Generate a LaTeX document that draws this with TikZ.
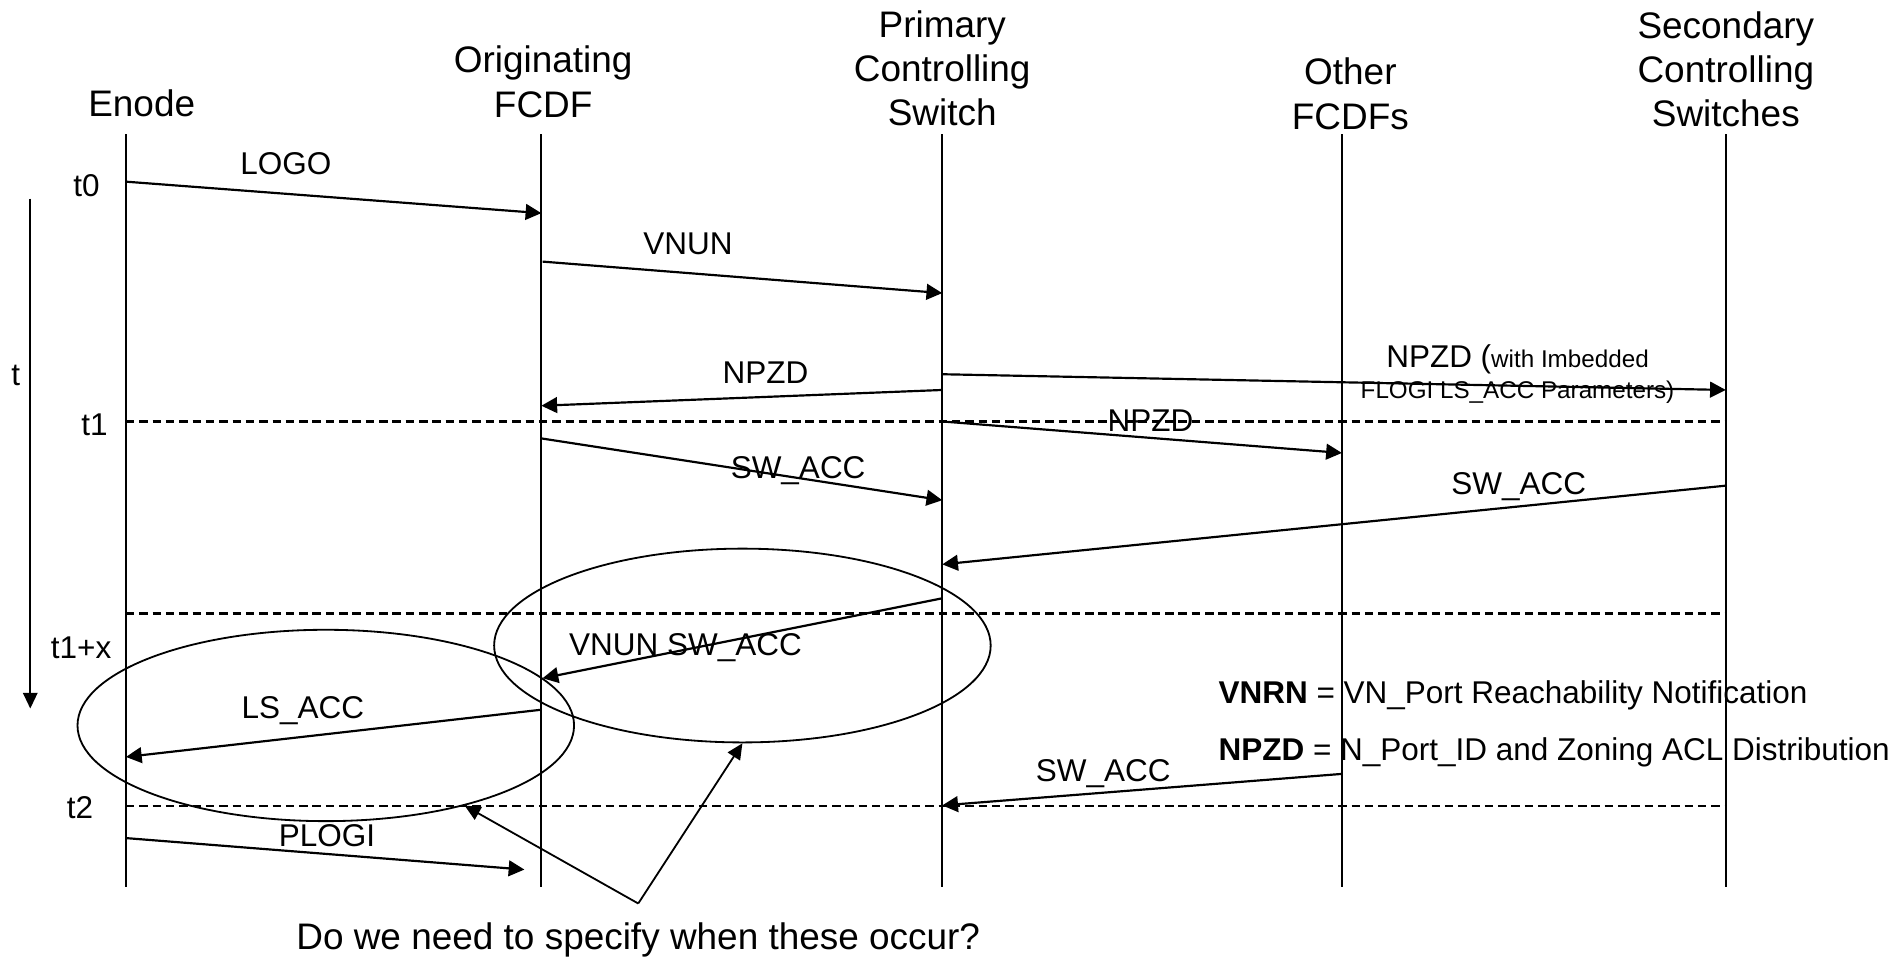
\documentclass[tikz,border=0pt]{standalone}
\usepackage{fontspec}
\setmainfont{Liberation Sans}
\usetikzlibrary{arrows.meta,positioning,shapes.geometric}

\begin{document}
\begin{tikzpicture}[x=1pt,y=-1pt,>={Triangle[length=13pt,width=13pt]},
    lifeline/.style={line width=1.5pt},
    msg/.style={->,line width=1.8pt},
    sync/.style={dash pattern=on 7pt off 4pt,line width=2pt},
    head/.style={align=center,inner sep=0pt,font=\fontsize{30.5}{36.5}\selectfont},
    lbl/.style={align=center,inner sep=0pt,font=\fontsize{26}{26}\selectfont},
    group/.style={draw,ellipse,line width=1.5pt,inner sep=0pt,minimum width=410pt},
    callout/.style={->,line width=1.5pt,>={Triangle[length=13pt,width=12pt]}}]
  \useasboundingbox (0,0) rectangle (1568,793);

  \node[head] (enode) at (117,85) {Enode};
  \node[head] (orig) at (448.5,67.5) {Originating\\FCDF};
  \node[head] (prim) at (778,56.5) {Primary\\Controlling\\Switch};
  \node[head] (other) at (1115,77.5) {Other\\FCDFs};
  \node[head] (sec) at (1425,57) {Secondary\\Controlling\\Switches};

  \coordinate (enT) at (104,111);  \coordinate (enB) at (104,732);
  \coordinate (orT) at (447,111);  \coordinate (orB) at (447,732);
  \coordinate (prT) at (778,111);  \coordinate (prB) at (778,732);
  \coordinate (otT) at (1108,111); \coordinate (otB) at (1108,732);
  \coordinate (seT) at (1425,111); \coordinate (seB) at (1425,732);
  \draw[lifeline] (enT) -- (enB);
  \draw[lifeline] (orT) -- (orB);
  \draw[lifeline] (prT) -- (prB);
  \draw[lifeline] (otT) -- (otB);
  \draw[lifeline] (seT) -- (seB);

  \coordinate (s1a) at (104,348);   \coordinate (s1b) at (1425,348);
  \coordinate (s2a) at (104,506.5); \coordinate (s2b) at (1425,506.5);
  \coordinate (s3a) at (104,665.5); \coordinate (s3b) at (1425,665.5);
  \draw[sync] (s1a) -- (s1b);
  \draw[sync] (s2a) -- (s2b);
  \draw[sync] (s3a) -- (s3b);

  % time axis
  \coordinate (tTop) at (25,164); \coordinate (tBot) at (25,585);
  \draw[callout] (tTop) -- (tBot);
  \node[lbl] (tlab) at (13,310) {t};
  \node[lbl] (t0) at (71.5,153) {t0};
  \node[lbl] (t1) at (78,351) {t1};
  \node[lbl] (t1x) at (67,535) {t1+x};
  \node[lbl] (t2) at (66,667) {t2};

  % messages
  \coordinate (logoS) at (104,150);  \coordinate (logoE) at (447,176);
  \coordinate (vnunS) at (448,216);  \coordinate (vnunE) at (778,242);
  \coordinate (npzdS) at (778,322);  \coordinate (npzdE) at (447,335);
  \coordinate (npzlS) at (778,309);  \coordinate (npzlE) at (1425,322);
  \coordinate (npzoS) at (778,348);  \coordinate (npzoE) at (1108,374);
  \coordinate (swaS) at (447,362);   \coordinate (swaE) at (778,413);
  \coordinate (swbS) at (1425,401);  \coordinate (swbE) at (778,466);
  \coordinate (vnswS) at (778,494);  \coordinate (vnswE) at (448,560);
  \coordinate (lsS) at (447,586);    \coordinate (lsE) at (104,625);
  \coordinate (swcS) at (1108,639);  \coordinate (swcE) at (778,665);
  \coordinate (plogS) at (104,692);  \coordinate (plogE) at (433,718);
  \draw[msg] (logoS) -- (logoE);
  \draw[msg] (vnunS) -- (vnunE);
  \draw[msg] (npzdS) -- (npzdE);
  \draw[msg] (npzlS) -- (npzlE);
  \draw[msg] (npzoS) -- (npzoE);
  \draw[msg] (swaS) -- (swaE);
  \draw[msg] (swbS) -- (swbE);
  \draw[msg] (vnswS) -- (vnswE);
  \draw[msg] (lsS) -- (lsE);
  \draw[msg] (swcS) -- (swcE);
  \draw[msg] (plogS) -- (plogE);

  \node[lbl] (logo) at (236,135) {LOGO};
  \node[lbl] (vnun) at (568,201) {VNUN};
  \node[lbl] (npzd) at (632,308) {NPZD};
  \node[lbl] (npzl) at (1253,309) {NPZD ({\fontsize{20}{26}\selectfont with Imbedded}\\{\fontsize{20}{26}\selectfont FLOGI LS\_ACC Parameters)}};
  \node[lbl] (npzo) at (950,347) {NPZD};
  \node[lbl] (swa) at (659,389) {SW\_ACC};
  \node[lbl] (swb) at (1254,402) {SW\_ACC};
  \node[lbl] (vnsw) at (566,535) {VNUN SW\_ACC};
  \node[lbl] (ls) at (250,587) {LS\_ACC};
  \node[lbl] (swc) at (911,639) {SW\_ACC};
  \node[lbl] (plog) at (270,690) {PLOGI};

  % legend
  \node[lbl,anchor=west] (vnrn) at (1006,574) {\textbf{VNRN} = VN\_Port Reachability Notification};
  \node[lbl,anchor=west] (npzdkey) at (1006,621.5) {\textbf{NPZD} = N\_Port\_ID and Zoning ACL Distribution};

  % open question
  \node[group,minimum height=158pt] (grpA) at (269,599) {};
  \node[group,minimum height=160pt] (grpB) at (613,533) {};
  \coordinate (fork) at (527,746);
  \node[head,below=16pt of fork] (question) {Do we need to specify when these occur?};
  \draw[callout] (fork) -- (grpA.-30);
  \draw[callout] (fork) -- (grpB.south);
\end{tikzpicture}
\end{document}
